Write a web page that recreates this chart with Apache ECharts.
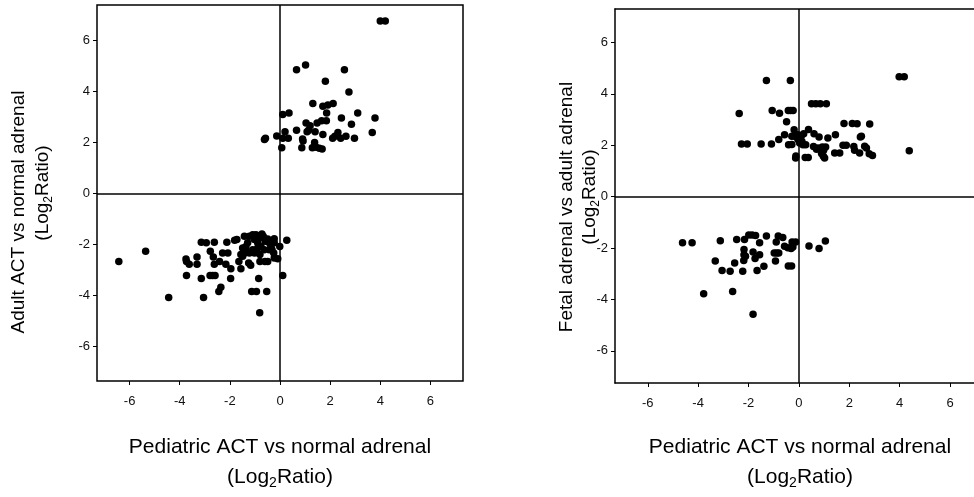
<!DOCTYPE html>
<html><head><meta charset="utf-8">
<script src="https://cdn.jsdelivr.net/npm/echarts@6/dist/echarts.min.js"></script>
<style>html,body{margin:0;padding:0;background:#fff;overflow:hidden}#c{width:974px;height:497px}</style>
</head><body><div id="c"></div>
<script>
// ---- tick labels ----
const tickValues = [-6, -4, -2, 0, 2, 4, 6];

// ---- axis titles ----
const xTitle = 'Pediatric ACT vs normal adrenal';
const leftYTitle = 'Adult ACT vs normal adrenal';
const rightYTitle = 'Fetal adrenal vs adult adrenal';
const unitTitle = '{m|(Log}{s|2}{m|Ratio)}';

// ---- left panel: Pediatric ACT vs normal (x) / Adult ACT vs normal (y) ----
const leftUp = [
  [4.0,6.77],[4.2,6.77],
  [0.66,4.86],[1.02,5.05],[2.57,4.86],[1.81,4.41],[2.75,3.99],
  [1.31,3.54],[1.71,3.43],[1.91,3.48],[2.12,3.54],[1.86,3.16],
  [0.11,3.10],[0.36,3.16],[3.1,3.16],[2.45,2.97],[3.79,2.97],
  [1.04,2.77],[1.2,2.66],[1.48,2.77],[1.66,2.86],[1.85,2.86],[2.85,2.72],
  [0.2,2.43],[0.66,2.49],[1.08,2.43],[1.14,2.49],[1.4,2.43],[1.71,2.32],[2.31,2.40],[3.68,2.40],
  [-0.58,2.17],[-0.62,2.12],[-0.13,2.26],[0.11,2.17],[0.33,2.17],[0.9,2.14],[0.92,2.06],[1.38,2.01],
  [2.1,2.17],[2.19,2.25],[2.42,2.17],[2.63,2.25],[2.97,2.17],
  [0.07,1.80],[0.87,1.80],[1.29,1.80],[1.44,1.82],[1.57,1.78],[1.68,1.75]
];
const leftDown = [
  [-6.43,-2.66],[-5.36,-2.26],[-4.44,-4.07],[-3.05,-4.07],
  [-3.75,-2.56],[-3.73,-2.66],[-3.62,-2.77],[-3.31,-2.49],[-3.31,-2.77],[-3.73,-3.21],
  [-3.14,-1.91],[-2.94,-1.93],[-2.62,-1.91],[-2.12,-1.91],[-1.81,-1.83],[-1.72,-1.80],
  [-2.78,-2.26],[-2.66,-2.49],[-2.62,-2.77],[-2.29,-2.33],[-2.08,-2.33],[-2.41,-2.66],[-2.16,-2.77],[-1.96,-2.95],
  [-3.14,-3.33],[-2.79,-3.21],[-2.69,-3.21],[-2.59,-3.21],[-1.97,-3.33],[-2.36,-3.67],[-2.44,-3.84],
  [-1.56,-2.95],[-1.64,-2.66],[-1.49,-2.46],[-1.41,-2.33],[-1.25,-2.72],[-1.17,-2.81],
  [-0.85,-3.33],[-1.13,-3.84],[-0.94,-3.84],[-0.53,-3.84],[-0.81,-4.67],
  [0.11,-3.21],[0.27,-1.83],[-0.01,-2.07],[-0.09,-2.55],
  [-0.8,-2.66],[-0.6,-2.66],[-0.49,-2.66],[-0.8,-2.39],[-0.23,-2.52],[-0.32,-2.2],[-0.25,-2.33],[-0.23,-1.77],
  [-1.42,-1.67],[-1.29,-1.93],[-1.36,-2.07],[-1.22,-1.67],[-1.09,-1.61],[-1.02,-1.80],[-0.96,-1.61],
  [-0.89,-1.93],[-0.83,-1.74],[-0.72,-1.58],[-0.67,-1.67],[-0.59,-1.87],[-0.49,-1.78],[-0.43,-1.93],
  [-0.36,-2.07],[-0.32,-1.87],[-1.49,-2.13],[-1.36,-2.26],[-1.22,-2.33],[-1.09,-2.20],[-1.02,-2.33],
  [-0.89,-2.13],[-0.76,-2.07],[-0.63,-2.20],[-0.23,-1.93],[-1.56,-2.39],[-0.43,-2.20]
];

// ---- right panel: Pediatric ACT vs normal (x) / Fetal vs adult adrenal (y) ----
const rightUp = [
  [3.98,4.66],[4.18,4.66],[-1.29,4.52],[-0.34,4.52],
  [0.5,3.61],[0.67,3.61],[0.85,3.61],[1.09,3.61],
  [-1.06,3.35],[-0.77,3.24],[-0.42,3.35],[-0.33,3.35],[-0.23,3.35],[-2.37,3.23],
  [-0.49,2.91],[1.79,2.85],[2.12,2.85],[2.31,2.84],[2.81,2.83],
  [-0.19,2.6],[0.38,2.61],[-0.57,2.41],[-0.28,2.35],[-0.17,2.35],[-0.04,2.41],[0.09,2.35],[0.19,2.45],
  [0.6,2.45],[0.8,2.32],[1.15,2.28],[1.45,2.41],[2.48,2.35],[2.44,2.32],
  [-0.8,2.22],[-2.28,2.05],[-2.05,2.05],[-1.5,2.05],[-1.09,2.05],[-0.41,2.02],[-0.28,2.03],
  [-0.04,2.22],[0.03,2.09],[0.12,2.15],[0.16,2.02],[0.27,2.02],
  [0.58,1.95],[0.7,1.84],[0.76,1.89],[0.93,1.93],[0.98,1.8],[1.06,1.93],
  [1.42,1.7],[1.62,1.7],[1.75,2.0],[1.88,2.0],[2.18,1.95],[2.21,1.8],[2.41,1.7],[2.61,1.96],
  [2.68,1.89],[2.79,1.67],[2.92,1.6],[4.38,1.79],
  [-0.12,1.58],[-0.13,1.5],[0.25,1.52],[0.37,1.52],[0.9,1.68],[0.97,1.57],[1.02,1.5]
];
const rightDown = [
  [-4.62,-1.79],[-4.24,-1.79],[-3.12,-1.72],[-2.47,-1.67],[-2.16,-1.67],
  [-1.99,-1.49],[-1.86,-1.49],[-1.72,-1.51],[-1.56,-1.79],[-1.29,-1.53],
  [-0.82,-1.53],[-0.64,-1.59],[-0.9,-1.76],[-0.27,-1.76],[-0.13,-1.76],
  [-0.57,-1.93],[-0.44,-1.99],[-0.31,-2.02],[-0.24,-1.96],
  [0.40,-1.92],[0.80,-2.02],[1.05,-1.73],
  [-2.18,-2.06],[-1.82,-2.15],[-1.56,-2.26],[-0.98,-2.19],[-0.88,-2.19],[-0.8,-2.19],
  [-2.18,-2.26],[-2.12,-2.32],[-1.74,-2.41],[-2.19,-2.48],[-3.32,-2.5],[-2.55,-2.58],[-1.39,-2.71],[-0.93,-2.5],
  [-3.05,-2.87],[-2.73,-2.9],[-2.23,-2.9],[-1.66,-2.87],[-0.42,-2.7],[-0.29,-2.7],
  [-3.78,-3.78],[-2.63,-3.69],[-1.82,-4.58]
];

const FONT = '"Liberation Sans", Arial, sans-serif';
const chart = echarts.init(document.getElementById('c'), null, {renderer: 'canvas'});
const frameLine = {show: true, onZero: false, lineStyle: {color: '#000', width: 1.5}};

function mkX(gi, min, max, frame) {
  return {
    gridIndex: gi, type: 'value', min: min, max: max, position: 'bottom',
    axisLine: frame ? frameLine : {show: false, onZero: false},
    axisTick: {show: true, inside: false, length: 4, customValues: tickValues, lineStyle: {color: '#000', width: 1}},
    axisLabel: {customValues: tickValues, margin: 14, fontSize: 13, color: '#111', fontFamily: FONT},
    splitLine: {show: false}
  };
}
function mkY(gi, min, max, frame) {
  return {
    gridIndex: gi, type: 'value', min: min, max: max, position: 'left',
    axisLine: frame ? frameLine : {show: false, onZero: false},
    axisTick: {show: true, inside: false, length: 4, customValues: tickValues, lineStyle: {color: '#000', width: 1}},
    axisLabel: {customValues: tickValues, margin: 7, fontSize: 13, color: '#111', fontFamily: FONT},
    splitLine: {show: false}
  };
}
// top edge of the right frame (the right edge falls outside the picture)
function topEdge(gi, min, max) {
  return {
    gridIndex: gi, type: 'value', min: min, max: max, position: 'top',
    axisLine: frameLine, axisTick: {show: false}, axisLabel: {show: false}, splitLine: {show: false}
  };
}
const zeroLines = {
  silent: true, symbol: ['none', 'none'], animation: false,
  label: {show: false},
  lineStyle: {color: '#000', width: 1.5, type: 'solid', opacity: 1},
  emphasis: {disabled: true},
  data: [{xAxis: 0}, {yAxis: 0}]
};
function scatter(xi, yi, data, withLines) {
  const s = {
    type: 'scatter', xAxisIndex: xi, yAxisIndex: yi, data: data,
    symbol: 'circle', symbolSize: 7.5, itemStyle: {color: '#000', opacity: 1}, z: 3, silent: true
  };
  if (withLines) s.markLine = zeroLines;
  return s;
}
function txt(text, x, y, size, rot) {
  const lh = Math.round(size * 1.25);
  const ss = Math.round(size * 0.65);
  return {
    type: 'text', x: x, y: y, rotation: rot || 0,
    style: {text: text, fontSize: size, fontFamily: FONT, fill: '#000',
      align: 'center', verticalAlign: 'middle', textAlign: 'center', textVerticalAlign: 'middle',
      rich: {
        m: {fontSize: size, fontFamily: FONT, fill: '#000', lineHeight: lh, verticalAlign: 'middle'},
        s: {fontSize: ss, fontFamily: FONT, fill: '#000', lineHeight: ss, verticalAlign: 'bottom'}
      }}
  };
}

chart.setOption({
  animation: false,
  backgroundColor: '#fff',
  grid: [
    {left: 97, top: 5, width: 366, height: 376, show: true, borderColor: '#000', borderWidth: 1.5, containLabel: false},
    {left: 615, top: 9, width: 359, height: 374, show: false, containLabel: false}
  ],
  xAxis: [mkX(0, -7.3, 7.3, false), mkX(1, -7.3, 6.95, true), topEdge(1, -7.3, 6.95)],
  yAxis: [mkY(0, -7.35, 7.4, false), mkY(1, -7.25, 7.3, true)],
  series: [
    scatter(0, 0, leftUp, true), scatter(0, 0, leftDown, false),
    scatter(1, 1, rightUp, true), scatter(1, 1, rightDown, false)
  ],
  graphic: [
    txt(xTitle, 280, 447, 21), txt(unitTitle, 280, 477, 21),
    txt(xTitle, 800, 447, 21), txt(unitTitle, 800, 477, 21),
    txt(leftYTitle, 19, 212, 19, Math.PI / 2), txt(unitTitle, 43, 193, 19, Math.PI / 2),
    txt(rightYTitle, 567, 207, 19, Math.PI / 2), txt(unitTitle, 590, 197, 19, Math.PI / 2)
  ]
});
</script></body></html>
